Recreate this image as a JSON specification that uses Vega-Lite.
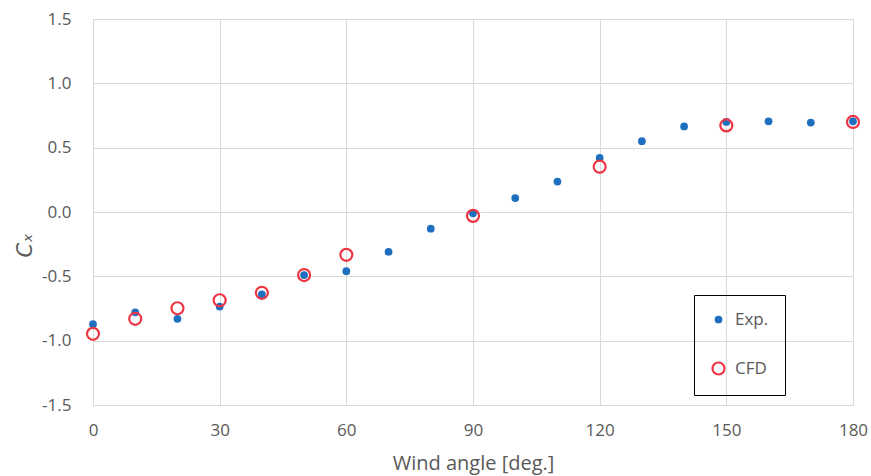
{
  "$schema": "https://vega.github.io/schema/vega-lite/v6.json",
  "autosize": "none",
  "width": 760,
  "height": 386,
  "padding": {"left": 93, "top": 19, "right": 18, "bottom": 71},
  "background": "white",
  "config": {
    "font": "Open Sans",
    "view": {"stroke": "#d9d9d9", "strokeWidth": 1},
    "axis": {
      "labelFont": "Open Sans",
      "titleFont": "Open Sans",
      "labelColor": "#595959",
      "titleColor": "#595959",
      "labelFontSize": 17,
      "titleFontSize": 20,
      "titleFontWeight": "normal",
      "gridColor": "#d9d9d9",
      "gridWidth": 1,
      "domainColor": "#d9d9d9",
      "ticks": false
    },
    "legend": {
      "labelFont": "Open Sans",
      "labelFontSize": 17,
      "labelColor": "#595959"
    }
  },
  "data": {
    "values": [
      {"angle": 0, "cx": -0.872, "series": "Exp."},
      {"angle": 10, "cx": -0.78, "series": "Exp."},
      {"angle": 20, "cx": -0.83, "series": "Exp."},
      {"angle": 30, "cx": -0.735, "series": "Exp."},
      {"angle": 40, "cx": -0.64, "series": "Exp."},
      {"angle": 50, "cx": -0.49, "series": "Exp."},
      {"angle": 60, "cx": -0.46, "series": "Exp."},
      {"angle": 70, "cx": -0.31, "series": "Exp."},
      {"angle": 80, "cx": -0.13, "series": "Exp."},
      {"angle": 90, "cx": -0.01, "series": "Exp."},
      {"angle": 100, "cx": 0.108, "series": "Exp."},
      {"angle": 110, "cx": 0.237, "series": "Exp."},
      {"angle": 120, "cx": 0.42, "series": "Exp."},
      {"angle": 130, "cx": 0.55, "series": "Exp."},
      {"angle": 140, "cx": 0.665, "series": "Exp."},
      {"angle": 150, "cx": 0.70, "series": "Exp."},
      {"angle": 160, "cx": 0.705, "series": "Exp."},
      {"angle": 170, "cx": 0.695, "series": "Exp."},
      {"angle": 180, "cx": 0.705, "series": "Exp."},
      {"angle": 0, "cx": -0.947, "series": "CFD"},
      {"angle": 10, "cx": -0.83, "series": "CFD"},
      {"angle": 20, "cx": -0.748, "series": "CFD"},
      {"angle": 30, "cx": -0.686, "series": "CFD"},
      {"angle": 40, "cx": -0.628, "series": "CFD"},
      {"angle": 50, "cx": -0.49, "series": "CFD"},
      {"angle": 60, "cx": -0.333, "series": "CFD"},
      {"angle": 90, "cx": -0.03, "series": "CFD"},
      {"angle": 120, "cx": 0.352, "series": "CFD"},
      {"angle": 150, "cx": 0.673, "series": "CFD"},
      {"angle": 180, "cx": 0.70, "series": "CFD"}
    ]
  },
  "mark": {"type": "point", "shape": "circle", "opacity": 1},
  "encoding": {
    "x": {
      "field": "angle",
      "type": "quantitative",
      "scale": {"domain": [0, 180], "nice": false},
      "axis": {
        "values": [0, 30, 60, 90, 120, 150, 180],
        "labelFlush": false,
        "labelPadding": 17,
        "title": "Wind angle [deg.]",
        "titlePadding": 15
      }
    },
    "y": {
      "field": "cx",
      "type": "quantitative",
      "scale": {"domain": [-1.5, 1.5], "nice": false, "zero": false},
      "axis": {
        "values": [-1.5, -1.0, -0.5, 0.0, 0.5, 1.0, 1.5],
        "format": ".1f",
        "labelExpr": "replace(datum.label, '−', '-')",
        "labelFlush": false,
        "labelPadding": 22,
        "title": "Cₓ",
        "titleFont": "DejaVu Sans",
        "titleFontSize": 21,
        "titleFontStyle": "italic",
        "titleX": -68,
        "titleY": 226,
        "titleAngle": -90,
        "titleAlign": "center",
        "titleBaseline": "middle"
      }
    },
    "stroke": {
      "field": "series",
      "type": "nominal",
      "scale": {"domain": ["Exp.", "CFD"], "range": ["#1f6fc0", "#ee3440"]},
      "legend": {
        "title": null,
        "orient": "none",
        "legendX": 601,
        "legendY": 276,
        "strokeColor": "black",
        "padding": 16,
        "rowPadding": 30,
        "labelOffset": 8,
        "symbolStrokeWidth": 2
      }
    },
    "fill": {
      "field": "series",
      "type": "nominal",
      "scale": {"domain": ["Exp.", "CFD"], "range": ["#1f6fc0", "transparent"]}
    },
    "size": {
      "field": "series",
      "type": "ordinal",
      "scale": {"domain": ["Exp.", "CFD"], "range": [60, 144]}
    },
    "strokeWidth": {
      "field": "series",
      "type": "ordinal",
      "scale": {"domain": ["Exp.", "CFD"], "range": [0, 2.2]}
    }
  }
}
